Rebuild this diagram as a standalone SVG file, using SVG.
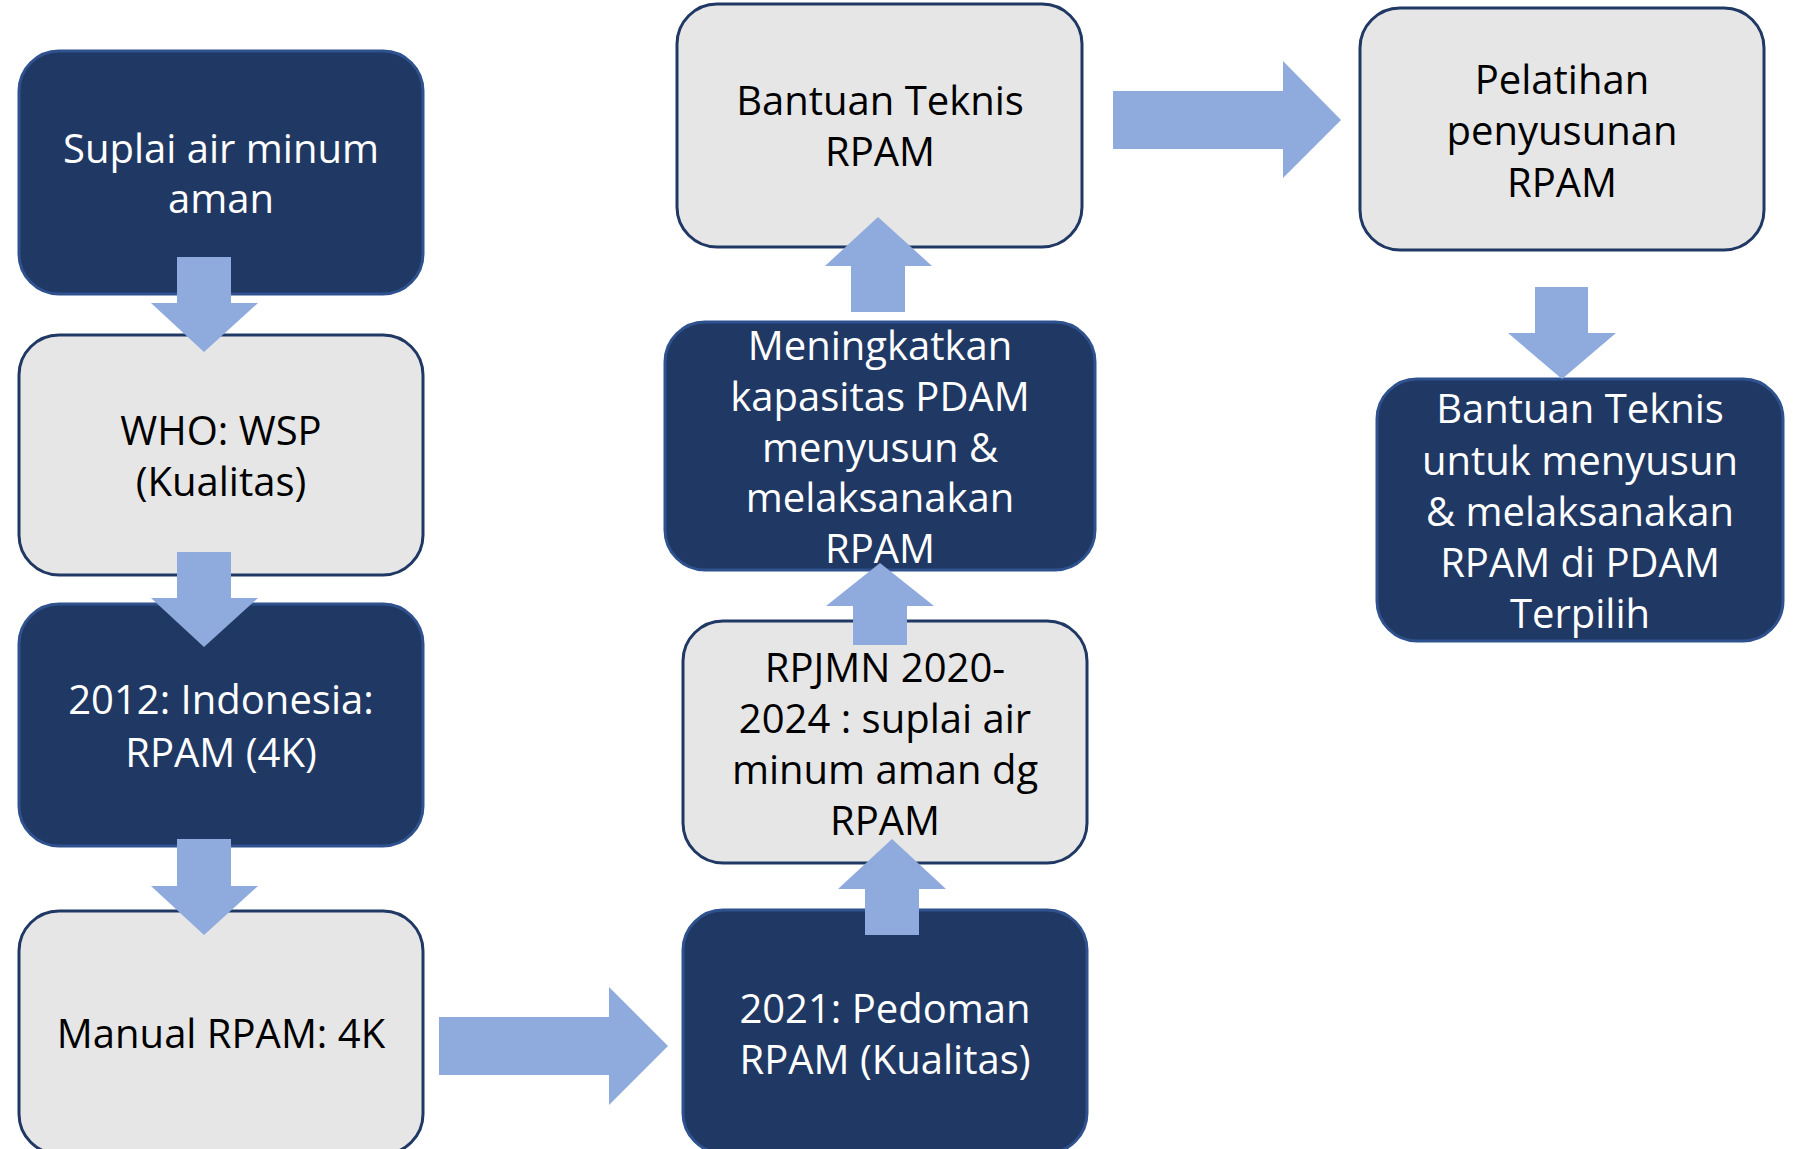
<svg xmlns="http://www.w3.org/2000/svg" width="1793" height="1149" viewBox="0 0 1793 1149">
<style>
.dark{fill:#203864;stroke:#2F528F;stroke-width:3}
.light{fill:#E6E6E6;stroke:#203864;stroke-width:3}
.arr{fill:#8FAADC;stroke:none}
text{font-family:"Open Sans","Noto Sans","Liberation Sans",sans-serif;font-size:40px;text-anchor:middle}
.tw{fill:#FFFFFF}
.tb{fill:#000000}
</style>
<rect width="1793" height="1149" fill="#FFFFFF"/>
<g id="n1"><rect class="dark" x="19" y="51" width="404" height="243" rx="40"/><text class="tw" x="221" y="163">Suplai air minum</text><text class="tw" x="221" y="213">aman</text></g>
<g id="n2"><rect class="light" x="19" y="335" width="404" height="240" rx="40"/><text class="tb" x="221" y="445">WHO: WSP</text><text class="tb" x="221" y="496">(Kualitas)</text></g>
<g id="n3"><rect class="dark" x="19" y="604" width="404" height="242" rx="40"/><text class="tw" x="221" y="714">2012: Indonesia:</text><text class="tw" x="221" y="767">RPAM (4K)</text></g>
<g id="n4"><rect class="light" x="19" y="911" width="404" height="243" rx="40"/><text class="tb" x="221" y="1048">Manual RPAM: 4K</text></g>
<g id="n5"><rect class="light" x="677" y="4" width="405" height="243" rx="40"/><text class="tb" x="880" y="115">Bantuan Teknis</text><text class="tb" x="880" y="166">RPAM</text></g>
<g id="n6"><rect class="dark" x="665" y="322" width="430" height="248" rx="40"/><text class="tw" x="880" y="360">Meningkatkan</text><text class="tw" x="880" y="411">kapasitas PDAM</text><text class="tw" x="880" y="462">menyusun &amp;</text><text class="tw" x="880" y="512">melaksanakan</text><text class="tw" x="880" y="563">RPAM</text></g>
<g id="n7"><rect class="light" x="683" y="621" width="404" height="242" rx="40"/><text class="tb" x="885" y="682">RPJMN 2020-</text><text class="tb" x="885" y="733">2024 : suplai air</text><text class="tb" x="885" y="784">minum aman dg</text><text class="tb" x="885" y="835">RPAM</text></g>
<g id="n8"><rect class="dark" x="683" y="910" width="404" height="243" rx="40"/><text class="tw" x="885" y="1023">2021: Pedoman</text><text class="tw" x="885" y="1074">RPAM (Kualitas)</text></g>
<g id="n9"><rect class="light" x="1360" y="8" width="404" height="242" rx="40"/><text class="tb" x="1562" y="94">Pelatihan</text><text class="tb" x="1562" y="145">penyusunan</text><text class="tb" x="1562" y="197">RPAM</text></g>
<g id="n10"><rect class="dark" x="1377" y="379" width="406" height="262" rx="40"/><text class="tw" x="1580" y="423">Bantuan Teknis</text><text class="tw" x="1580" y="475">untuk menyusun</text><text class="tw" x="1580" y="526">&amp; melaksanakan</text><text class="tw" x="1580" y="577">RPAM di PDAM</text><text class="tw" x="1580" y="628">Terpilih</text></g>
<g id="connectors">
<polygon class="arr" points="177,257 231,257 231,303 258,303 204,352 151,303 177,303"/>
<polygon class="arr" points="177,552 231,552 231,598 258,598 204,647 151,598 177,598"/>
<polygon class="arr" points="177,839 231,839 231,886 258,886 204,935 151,886 177,886"/>
<polygon class="arr" points="439,1017 609,1017 609,987 668,1046 609,1105 609,1075 439,1075"/>
<polygon class="arr" points="865,935 865,889 838,889 892,839 946,889 919,889 919,935"/>
<polygon class="arr" points="853,645 853,606 826,606 880,563 934,606 907,606 907,645"/>
<polygon class="arr" points="851,312 851,266 825,266 878,217 932,266 905,266 905,312"/>
<polygon class="arr" points="1113,91 1283,91 1283,61 1341,120 1283,178 1283,149 1113,149"/>
<polygon class="arr" points="1535,287 1588,287 1588,333 1616,333 1562,379 1508,333 1535,333"/>
</g>
</svg>
